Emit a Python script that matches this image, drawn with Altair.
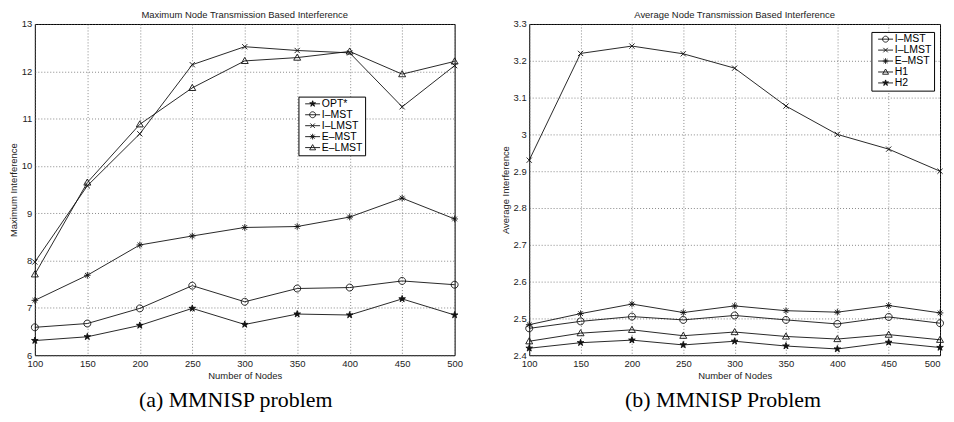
import altair as alt
import pandas as pd

# ---------------- data ----------------
nodes = [100, 150, 200, 250, 300, 350, 400, 450, 500]

left_series = ["OPT*", "I–MST", "I–LMST", "E–MST", "E–LMST"]
left_opt = [6.31, 6.39, 6.63, 6.99, 6.65, 6.87, 6.85, 7.19, 6.85]
left_imst = [6.59, 6.67, 6.99, 7.47, 7.13, 7.41, 7.43, 7.57, 7.49]
left_ilmst = [7.97, 9.58, 10.68, 12.14, 12.52, 12.44, 12.39, 11.25, 12.12]
left_emst = [7.16, 7.69, 8.33, 8.52, 8.70, 8.72, 8.92, 9.32, 8.88]
left_elmst = [7.71, 9.65, 10.88, 11.65, 12.22, 12.29, 12.42, 11.94, 12.21]
left_yticks = [6, 7, 8, 9, 10, 11, 12, 13]

right_series = ["I–MST", "I–LMST", "E–MST", "H1", "H2"]
right_imst = [2.473, 2.492, 2.505, 2.496, 2.508, 2.496, 2.485, 2.504, 2.487]
right_ilmst = [2.93, 3.22, 3.24, 3.219, 3.18, 3.077, 3.0, 2.96, 2.90]
right_emst = [2.483, 2.513, 2.539, 2.516, 2.534, 2.521, 2.517, 2.535, 2.515]
right_h1 = [2.438, 2.46, 2.469, 2.453, 2.463, 2.451, 2.444, 2.456, 2.442]
right_h2 = [2.419, 2.434, 2.441, 2.428, 2.438, 2.425, 2.417, 2.435, 2.421]
right_yticks = [2.4, 2.5, 2.6, 2.7, 2.8, 2.9, 3.0, 3.1, 3.2, 3.3]

# ---------------- marker shapes ----------------
STAR = ("M0,-1L0.223,-0.307L0.951,-0.309L0.361,0.117L0.588,0.809L0,0.38"
        "L-0.588,0.809L-0.361,0.117L-0.951,-0.309L-0.223,-0.307Z")
STAR_SOLID = STAR + ("M0,-1L0,0.38M0.951,-0.309L-0.361,0.117M0.588,0.809L-0.223,-0.307"
                     "M-0.588,0.809L0.223,-0.307M-0.951,-0.309L0.361,0.117")
CIRCLE = "M1,0A1,1 0 1,1 -1,0A1,1 0 1,1 1,0Z"
XMARK = "M-0.75,-0.75L0.75,0.75M-0.75,0.75L0.75,-0.75"
ASTER = "M-0.95,0L0.95,0M0,-0.95L0,0.95M-0.67,-0.67L0.67,0.67M-0.67,0.67L0.67,-0.67"
TRI = "M0,-1L1,0.75L-1,0.75Z"
LINE = "M-2.5,0L2.5,0"

marker_of = {"OPT*": STAR, "I–MST": CIRCLE, "I–LMST": XMARK, "E–MST": ASTER,
             "E–LMST": TRI, "H1": TRI, "H2": STAR}
legend_marker_of = {"OPT*": STAR_SOLID, "I–MST": CIRCLE, "I–LMST": XMARK,
                    "E–MST": ASTER, "E–LMST": TRI, "H1": TRI, "H2": STAR_SOLID}

FONT = "Liberation Sans"
INK = "#111111"


def panel(series, values, title, ytitle, ydomain, yticks, caption,
          width, height, legend_x, legend_y, title_offset, label_pad_spaces,
          last_label_align):
    rows = []
    for s, vals in zip(series, values):
        for n, v in zip(nodes, vals):
            rows.append({"nodes": n, "value": v, "series": s})
    df = pd.DataFrame(rows)

    x = alt.X("nodes:Q",
              scale=alt.Scale(domain=[100, 500], nice=False, zero=False),
              axis=alt.Axis(values=nodes, title="Number of Nodes", labelFlush=False,
                            labelOverlap=False, titlePadding=3,
                            labelAlign=alt.expr(
                                f"datum.value == 500 ? '{last_label_align}' : 'center'")))
    y = alt.Y("value:Q",
              scale=alt.Scale(domain=ydomain, nice=False, zero=False),
              axis=alt.Axis(values=yticks, format="~g", title=ytitle, labelFlush=False,
                            labelOverlap=False, titlePadding=2.5))
    base = alt.Chart(df).encode(x=x, y=y)

    lines = base.mark_line(color=INK, strokeWidth=0.9).encode(detail="series:N")

    star_test = " || ".join([f"datum.series == '{s}'" for s in series
                             if marker_of[s] == STAR])
    pts = base.mark_point(size=49, strokeWidth=0.9, opacity=1).encode(
        shape=alt.Shape("series:N",
                        scale=alt.Scale(domain=series,
                                        range=[marker_of[s] for s in series]),
                        legend=None),
        fill=alt.condition(star_test, alt.value(INK), alt.value("transparent")),
        stroke=alt.value(INK),
    )

    leg = base.mark_point(size=36, strokeWidth=0.9, opacity=1, filled=False,
                          color=INK).encode(
        shape=alt.Shape("series:N",
                        scale=alt.Scale(domain=series,
                                        range=[LINE + legend_marker_of[s] for s in series]),
                        legend=alt.Legend(
                            title=None, orient="none", legendX=legend_x, legendY=legend_y,
                            strokeColor="black", fillColor="white", padding=2,
                            symbolSize=36, symbolStrokeColor=INK, symbolStrokeWidth=0.9,
                            symbolFillColor="transparent", symbolOffset=7,
                            labelOffset=4, labelFont=FONT, labelFontSize=10.5,
                            labelColor="black", rowPadding=0,
                            labelExpr="datum.label + '" + "\u00a0" * label_pad_spaces + "'",
                        ))
    ).transform_filter("false")

    layered = alt.layer(lines, pts, leg).resolve_scale(shape="independent").properties(
        width=width, height=height,
        title=alt.TitleParams(title, frame="group", anchor="middle", font=FONT,
                              fontSize=9.5, fontWeight="normal", color="#222222",
                              offset=title_offset),
    )
    wrapped = alt.vconcat(layered).properties(
        title=alt.TitleParams(caption, orient="bottom", anchor="middle",
                              font="Liberation Serif", fontSize=22,
                              fontWeight="normal", color="black", offset=10),
    ).resolve_scale(x="independent", y="independent")
    return wrapped


left = panel(left_series, [left_opt, left_imst, left_ilmst, left_emst, left_elmst],
             "Maximum Node Transmission Based Interference", "Maximum Interference",
             [6, 13], left_yticks, "(a) MMNISP problem",
             422, 333, 265, 73, 0, 2, "center")
right = panel(right_series, [right_imst, right_ilmst, right_emst, right_h1, right_h2],
              "Average Node Transmission Based Interference", "Average Interference",
              [2.4, 3.3], right_yticks, "(b) MMNISP Problem",
              413, 333, 344, 8, 0, 6, "right")

chart = alt.hconcat(left, right, spacing=36).resolve_scale(
    x="independent", y="independent"
).properties(
    padding={"left": 0, "top": 0, "right": 0, "bottom": 0}
).configure_view(
    stroke="black", strokeWidth=1
).configure_axis(
    labelFont=FONT, labelFontSize=9.5, labelColor="#222222", labelPadding=3,
    titleFont=FONT, titleFontSize=9.5, titleFontWeight="normal", titleColor="#222222",
    grid=True, gridColor="#555555", gridDash=[1, 2], gridWidth=0.7,
    domain=False, ticks=False,
).configure_concat(spacing=36)

chart.save("out.html", embed_options={"renderer": "svg", "actions": False})
